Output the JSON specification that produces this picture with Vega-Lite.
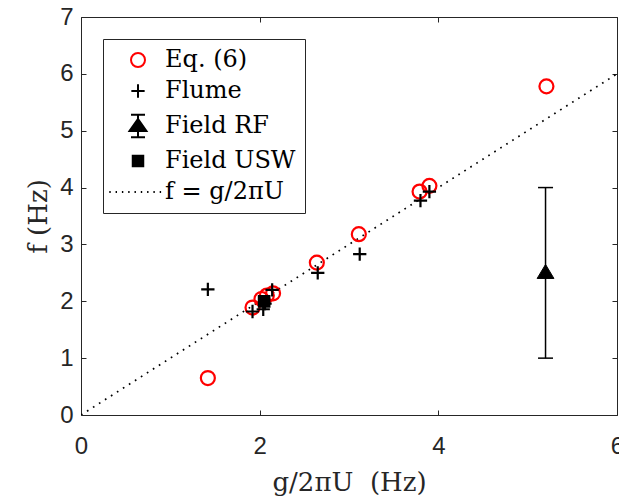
{
  "$schema": "https://vega.github.io/schema/vega-lite/v6.json",
  "width": 536,
  "height": 398,
  "autosize": {"type": "none"},
  "padding": {"left": 81, "top": 17, "right": 2, "bottom": 84},
  "background": "white",
  "config": {
    "view": {"stroke": null},
    "axis": {
      "grid": false,
      "labelFlush": false,
      "labelOverlap": false,
      "domainColor": "#262626",
      "tickColor": "#262626",
      "labelColor": "#262626",
      "titleColor": "#262626",
      "tickSize": -5,
      "domainWidth": 1,
      "tickWidth": 1,
      "labelFont": "Liberation Sans",
      "labelFontSize": 24,
      "labelFontWeight": "normal",
      "titleFont": "DejaVu Serif",
      "titleFontSize": 26,
      "titleFontWeight": "normal"
    }
  },
  "datasets": {
    "pts": [
      {"x": 1.42, "y": 0.65, "series": "Eq. (6)"},
      {"x": 1.92, "y": 1.89, "series": "Eq. (6)"},
      {"x": 2.02, "y": 2.04, "series": "Eq. (6)"},
      {"x": 2.08, "y": 2.1, "series": "Eq. (6)"},
      {"x": 2.15, "y": 2.14, "series": "Eq. (6)"},
      {"x": 2.64, "y": 2.68, "series": "Eq. (6)"},
      {"x": 3.11, "y": 3.18, "series": "Eq. (6)"},
      {"x": 3.79, "y": 3.93, "series": "Eq. (6)"},
      {"x": 3.9, "y": 4.03, "series": "Eq. (6)"},
      {"x": 5.21, "y": 5.78, "series": "Eq. (6)"},
      {"x": 1.42, "y": 2.21, "series": "Flume"},
      {"x": 1.92, "y": 1.82, "series": "Flume"},
      {"x": 2.04, "y": 1.86, "series": "Flume"},
      {"x": 2.06, "y": 1.96, "series": "Flume"},
      {"x": 2.14, "y": 2.2, "series": "Flume"},
      {"x": 2.65, "y": 2.5, "series": "Flume"},
      {"x": 3.12, "y": 2.83, "series": "Flume"},
      {"x": 3.8, "y": 3.77, "series": "Flume"},
      {"x": 3.9, "y": 3.93, "series": "Flume"},
      {"x": 2.05, "y": 2.0, "series": "Field USW"}
    ],
    "rf": [
      {"x": 5.2, "y": 2.5, "lo": 1, "hi": 4, "series": "Field RF"}
    ],
    "ideal": [
      {"x": 0, "y": 0},
      {"x": 6, "y": 6}
    ]
  },
  "resolve": {"axis": {"x": "independent", "y": "independent"}},
  "layer": [
    {
      "data": {"name": "ideal"},
      "mark": {"type": "line", "color": "black", "strokeWidth": 1.7, "strokeDash": [1.7, 5.4], "clip": true},
      "encoding": {
        "x": {"field": "x", "type": "quantitative", "scale": {"domain": [0, 6], "nice": false, "zero": false},
              "axis": {"orient": "bottom", "values": [0, 2, 4, 6], "title": "g/2πU\u00a0 (Hz)", "labelPadding": 24, "titlePadding": 11}},
        "y": {"field": "y", "type": "quantitative", "scale": {"domain": [0, 7], "nice": false, "zero": false},
              "axis": {"orient": "left", "values": [0, 1, 2, 3, 4, 5, 6, 7], "title": "f (Hz)", "labelPadding": 13, "titlePadding": 8}}
      }
    },
    {
      "data": {"name": "rf"},
      "mark": {"type": "rule", "color": "black", "strokeWidth": 1.5},
      "encoding": {
        "x": {"field": "x", "type": "quantitative",
              "axis": {"orient": "top", "values": [0, 2, 4, 6], "labels": false, "title": null}},
        "y": {"field": "lo", "type": "quantitative",
              "axis": {"orient": "right", "values": [0, 1, 2, 3, 4, 5, 6, 7], "labels": false, "title": null}},
        "y2": {"field": "hi"}
      }
    },
    {
      "data": {"name": "rf"},
      "mark": {"type": "point", "shape": "M-1,0H1", "size": 225, "stroke": "black", "strokeWidth": 1.5, "filled": false, "opacity": 1},
      "encoding": {
        "x": {"field": "x", "type": "quantitative", "axis": null},
        "y": {"field": "lo", "type": "quantitative", "axis": null}
      }
    },
    {
      "data": {"name": "rf"},
      "mark": {"type": "point", "shape": "M-1,0H1", "size": 225, "stroke": "black", "strokeWidth": 1.5, "filled": false, "opacity": 1},
      "encoding": {
        "x": {"field": "x", "type": "quantitative", "axis": null},
        "y": {"field": "hi", "type": "quantitative", "axis": null}
      }
    },
    {
      "data": {"name": "rf"},
      "mark": {"type": "point", "shape": "M-1.2,0.8L0,-1.2L1.2,0.8Z", "size": 196, "fill": "black", "stroke": "black", "strokeWidth": 1, "filled": true, "opacity": 1},
      "encoding": {
        "x": {"field": "x", "type": "quantitative", "axis": null},
        "y": {"field": "y", "type": "quantitative", "axis": null}
      }
    },
    {
      "data": {"name": "pts"},
      "mark": {"type": "point", "size": 196, "strokeWidth": 2.2, "opacity": 1},
      "encoding": {
        "x": {"field": "x", "type": "quantitative", "axis": null},
        "y": {"field": "y", "type": "quantitative", "axis": null},
        "shape": {
          "field": "series", "type": "nominal",
          "scale": {
            "domain": ["Eq. (6)", "Flume", "Field RF", "Field USW", "f = g/2πU"],
            "range": [
              "circle",
              "M-0.95,0H0.95M0,-0.95V0.95",
              "M-1.2,0.7L0,-1L1.2,0.7Z M0,-1.6V1.6 M-1,-1.6H1 M-1,1.6H1",
              "M-0.75,-0.75H0.75V0.75H-0.75Z",
              "M-4.1,0h0.2M-3.2,0h0.2M-2.3,0h0.2M-1.4,0h0.2M-0.5,0h0.2M0.4,0h0.2M1.3,0h0.2M2.2,0h0.2M3.1,0h0.2"
            ]
          },
          "legend": {
            "title": null,
            "orient": "top-left",
            "offset": 22,
            "strokeColor": "#262626",
            "fillColor": "white",
            "padding": 9,
            "symbolSize": 196,
            "symbolStrokeWidth": 2,
            "labelFont": "DejaVu Serif",
            "labelFontSize": 24,
            "labelColor": "black",
            "rowPadding": 7,
            "labelOffset": 15,
            "symbolOffset": 14,
            "cornerRadius": 0,
            "encode": {
              "labels": {"update": {"fontStyle": {"signal": "datum.value === 'f = g/2πU' ? 'italic' : 'normal'"}}}
            }
          }
        },
        "stroke": {
          "field": "series", "type": "nominal",
          "scale": {
            "domain": ["Eq. (6)", "Flume", "Field RF", "Field USW", "f = g/2πU"],
            "range": ["#ff0000", "black", "black", "black", "black"]
          }
        },
        "fill": {
          "field": "series", "type": "nominal",
          "scale": {
            "domain": ["Eq. (6)", "Flume", "Field RF", "Field USW", "f = g/2πU"],
            "range": ["transparent", "black", "black", "black", "black"]
          }
        }
      }
    }
  ]
}
